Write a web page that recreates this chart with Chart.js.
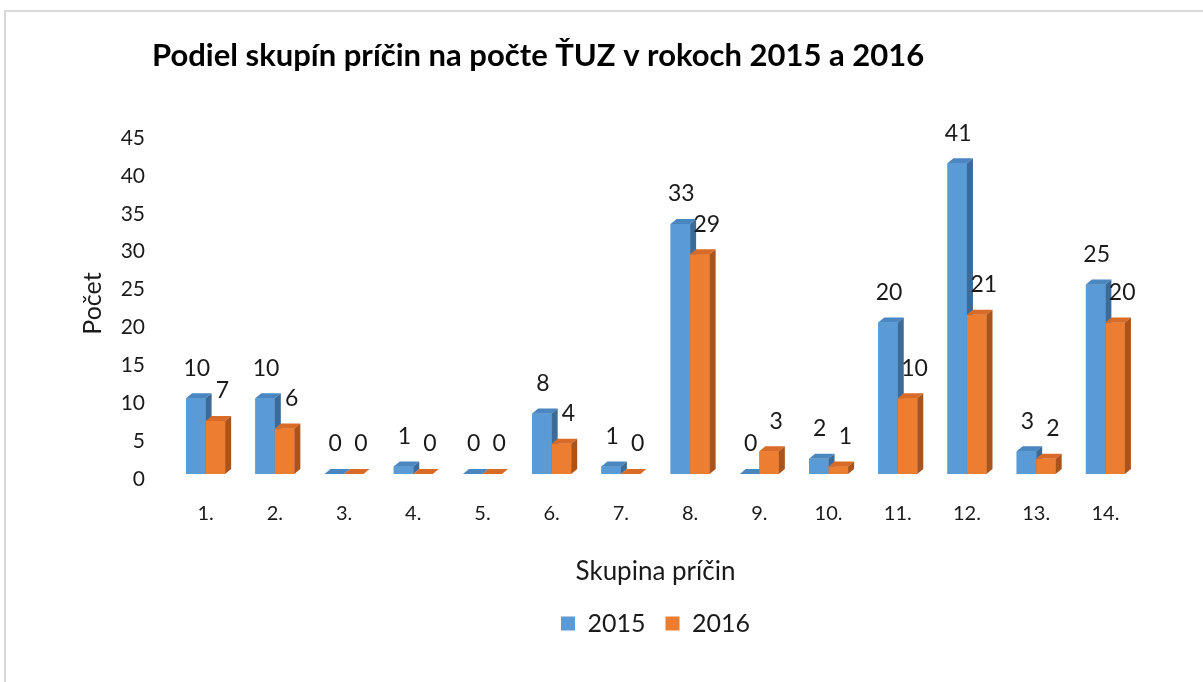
<!DOCTYPE html>
<html>
<head>
<meta charset="utf-8">
<script src="https://cdn.jsdelivr.net/npm/chart.js@4.4.0/dist/chart.umd.min.js"></script>
<style>
  html, body { margin: 0; padding: 0; background: #fff; overflow: hidden; }
  #frame { position: absolute; left: 4px; top: 10px; width: 1300px; height: 800px;
           border-top: 2px solid #d9d9d9; border-left: 2px solid #d9d9d9; }
  canvas { position: absolute; left: 0; top: 0; }
</style>
</head>
<body>
<div id="frame"></div>
<canvas id="chart" width="1203" height="682"></canvas>
<script>
const categories = ["1.", "2.", "3.", "4.", "5.", "6.", "7.", "8.", "9.", "10.", "11.", "12.", "13.", "14."];
const values2015 = [10, 10, 0, 1, 0, 8, 1, 33, 0, 2, 20, 41, 3, 25];
const values2016 = [7, 6, 0, 0, 0, 4, 0, 29, 3, 1, 10, 21, 2, 20];
const yMin = 0, yMax = 45, yStep = 5;
const chartTitle = "Podiel skupín príčin na počte ŤUZ v rokoch 2015 a 2016";

const textColor = "#1a1a1a";
const depthX = 6, depthY = 5;

Chart.defaults.font.family = "Lato, 'Open Sans', sans-serif";
Chart.defaults.color = textColor;

// fake 3D: redraw each dataset's bars in order, then its top and side faces,
// so the 2016 front face covers the 2015 side face like in Excel
const barDepth = {
  id: "barDepth",
  afterDatasetsDraw(chart) {
    const ctx = chart.ctx;
    ctx.save();
    chart.data.datasets.forEach((ds, i) => {
      const bars = chart.getDatasetMeta(i).data;
      bars.forEach(bar => bar.draw(ctx));
      bars.forEach(bar => {
        const l = bar.x - bar.width / 2, r = bar.x + bar.width / 2;
        ctx.fillStyle = ds.topColor;
        ctx.beginPath();
        ctx.moveTo(l, bar.y);
        ctx.lineTo(l + depthX, bar.y - depthY);
        ctx.lineTo(r + depthX, bar.y - depthY);
        ctx.lineTo(r, bar.y);
        ctx.closePath();
        ctx.fill();
        ctx.fillStyle = ds.sideColor;
        ctx.beginPath();
        ctx.moveTo(r, bar.y);
        ctx.lineTo(r + depthX, bar.y - depthY);
        ctx.lineTo(r + depthX, bar.base - depthY);
        ctx.lineTo(r, bar.base);
        ctx.closePath();
        ctx.fill();
      });
    });
    ctx.restore();
  }
};

// value labels above bars
const valueLabels = {
  id: "valueLabels",
  afterDatasetsDraw(chart) {
    const ctx = chart.ctx;
    ctx.save();
    ctx.font = "23px Lato";
    ctx.fillStyle = textColor;
    ctx.textAlign = "center";
    ctx.textBaseline = "middle";
    chart.data.datasets.forEach((ds, i) => {
      chart.getDatasetMeta(i).data.forEach((bar, j) => {
        ctx.fillText(String(ds.data[j]), bar.x + ds.labelShift, bar.y - 30);
      });
    });
    ctx.restore();
  }
};

// chart title, left aligned like the original
const leftTitle = {
  id: "leftTitle",
  afterDraw(chart) {
    const ctx = chart.ctx;
    ctx.save();
    ctx.font = "bold 31px Lato";
    ctx.fillStyle = "#000";
    ctx.textAlign = "left";
    ctx.textBaseline = "alphabetic";
    ctx.fillText(chartTitle, 152, 66);
    ctx.restore();
  }
};

new Chart(document.getElementById("chart"), {
  type: "bar",
  data: {
    labels: categories,
    datasets: [
      { label: "2015", data: values2015, backgroundColor: "#5b9bd5",
        topColor: "#4a86c0", sideColor: "#3c6b97", labelShift: 1 },
      { label: "2016", data: values2016, backgroundColor: "#ed7d31",
        topColor: "#d86b27", sideColor: "#a9531d", labelShift: 7 }
    ]
  },
  options: {
    responsive: false,
    animation: false,
    layout: { padding: { left: 78, right: 63, top: 133, bottom: 36 } },
    datasets: { bar: { categoryPercentage: 0.564, barPercentage: 1 } },
    scales: {
      x: {
        grid: { display: false, drawTicks: false },
        border: { display: false },
        ticks: { font: { size: 20 }, padding: 28 },
        title: { display: true, text: "Skupina príčin", font: { size: 26 }, padding: { top: 0, bottom: 4 } },
        afterFit(scale) { scale.height = 117; }
      },
      y: {
        min: yMin, max: yMax,
        grid: { display: false, drawTicks: false },
        border: { display: false },
        ticks: { stepSize: yStep, font: { size: 21 }, padding: 26, labelOffset: 5 },
        title: { display: true, text: "Počet", font: { size: 25 }, padding: 0 },
        afterFit(scale) { scale.width = 93; }
      }
    },
    plugins: {
      legend: {
        position: "bottom",
        fullSize: false,
        labels: { boxWidth: 14, boxHeight: 14, padding: 20, font: { size: 25 }, color: textColor }
      },
      tooltip: { enabled: false }
    }
  },
  plugins: [barDepth, valueLabels, leftTitle]
});
</script>
</body>
</html>
